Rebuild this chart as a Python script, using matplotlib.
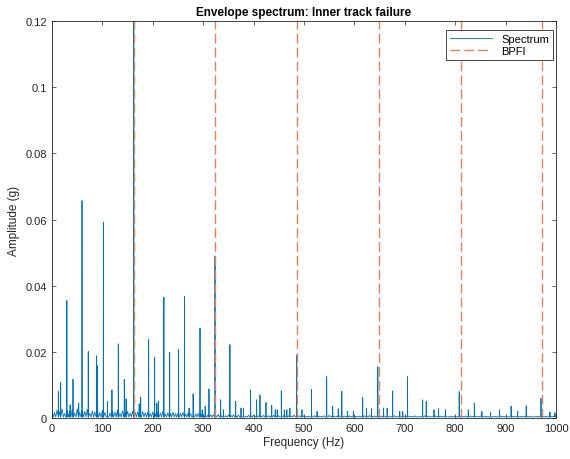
import numpy as np
import matplotlib
matplotlib.use("Agg")
import matplotlib.pyplot as plt
from matplotlib.ticker import FuncFormatter

plt.rcParams["font.family"] = ["Liberation Sans", "DejaVu Sans"]

# BPFI harmonics (Hz)
bpfi_freqs = [162.2, 324.4, 486.6, 648.8, 811.0, 973.2]

# tips of the noise floor, one every 5 Hz from 0 to 1000 Hz
floor_vals = [
    0.0026, 0.0016, 0.0024, 0.0019, 0.0027, 0.0014, 0.0022, 0.0020, 0.0025, 0.0015,
    0.0028, 0.0017, 0.0023, 0.0020, 0.0026, 0.0014, 0.0021, 0.0018, 0.0024, 0.0016,
    0.0023, 0.0017, 0.0026, 0.0015, 0.0020, 0.0018, 0.0024, 0.0014, 0.0022, 0.0016,
    0.0020, 0.0015, 0.0021, 0.0017, 0.0019, 0.0013, 0.0020, 0.0016, 0.0018, 0.0014,
    0.0019, 0.0013, 0.0017, 0.0015, 0.0020, 0.0012, 0.0016, 0.0014, 0.0018, 0.0013,
    0.0015, 0.0014, 0.0017, 0.0011, 0.0015, 0.0013, 0.0016, 0.0012, 0.0014, 0.0013,
    0.0012, 0.0008, 0.0011, 0.0009, 0.0010, 0.0007, 0.0011, 0.0008, 0.0010, 0.0007,
    0.0009, 0.0008, 0.0010, 0.0006, 0.0009, 0.0007, 0.0010, 0.0006, 0.0008, 0.0007,
    0.0008, 0.0005, 0.0007, 0.0006, 0.0008, 0.0005, 0.0007, 0.0006, 0.0008, 0.0005,
    0.0007, 0.0006, 0.0008, 0.0005, 0.0007, 0.0006, 0.0009, 0.0005, 0.0007, 0.0006,
    0.0007, 0.0005, 0.0006, 0.0005, 0.0007, 0.0006, 0.0006, 0.0005, 0.0007, 0.0005,
    0.0008, 0.0005, 0.0006, 0.0005, 0.0007, 0.0006, 0.0006, 0.0005, 0.0007, 0.0005,
    0.0007, 0.0005, 0.0006, 0.0006, 0.0007, 0.0005, 0.0008, 0.0005, 0.0006, 0.0005,
    0.0007, 0.0006, 0.0006, 0.0005, 0.0006, 0.0005, 0.0007, 0.0005, 0.0007, 0.0005,
    0.0006, 0.0005, 0.0006, 0.0005, 0.0007, 0.0004, 0.0006, 0.0005, 0.0007, 0.0005,
    0.0006, 0.0004, 0.0007, 0.0005, 0.0006, 0.0005, 0.0007, 0.0004, 0.0006, 0.0005,
    0.0007, 0.0004, 0.0006, 0.0005, 0.0006, 0.0004, 0.0006, 0.0005, 0.0005, 0.0005,
    0.0006, 0.0004, 0.0005, 0.0005, 0.0006, 0.0005, 0.0005, 0.0004, 0.0006, 0.0005,
    0.0006, 0.0004, 0.0005, 0.0005, 0.0006, 0.0004, 0.0005, 0.0005, 0.0006, 0.0005,
    0.0005, 0.0004, 0.0006, 0.0005, 0.0005, 0.0005, 0.0006, 0.0004, 0.0005, 0.0005,
    0.0006,
]
floor_trough = 0.0003
floor_freqs = np.linspace(0, 1000, len(floor_vals))

# spectral lines (Hz, g)
peak_freqs = [
    12.6, 17.2, 29.5, 36.0, 41.7, 53.0, 59.6, 72.0, 88.6, 89.6,
    102.0, 110.0, 119.0, 131.6, 143.5, 147.0, 162.2, 173.0, 176.0, 191.8,
    203.7, 208.0, 211.0, 222.0, 233.5, 251.3, 263.0, 272.0, 280.0, 293.7,
    298.0, 304.0, 311.5, 323.5, 334.7, 340.0, 353.0, 364.5, 375.0, 380.0,
    394.0, 406.0, 412.7, 424.6, 436.0, 443.0, 447.0, 455.0, 461.0, 466.0,
    472.0, 485.5, 496.0, 515.0, 526.0, 545.0, 557.0, 568.0, 575.0, 586.0,
    598.0, 616.5, 624.0, 634.0, 646.5, 658.0, 665.0, 676.0, 690.0, 696.0,
    705.5, 735.5, 742.5, 758.0, 767.0, 781.0, 808.0, 826.0, 838.0, 853.0,
    870.0, 888.0, 911.0, 924.0, 941.0, 970.3, 988.0, 998.0,
]
peak_amps = [
    0.0080, 0.0107, 0.0355, 0.0040, 0.0117, 0.0045, 0.0657, 0.0201, 0.0188, 0.0158,
    0.0592, 0.0050, 0.0085, 0.0224, 0.0117, 0.0058, 0.1400, 0.0043, 0.0063, 0.0237,
    0.0184, 0.0045, 0.0050, 0.0365, 0.0199, 0.0208, 0.0367, 0.0030, 0.0073, 0.0272,
    0.0025, 0.0035, 0.0088, 0.0490, 0.0055, 0.0025, 0.0222, 0.0050, 0.0030, 0.0030,
    0.0085, 0.0055, 0.0070, 0.0047, 0.0038, 0.0025, 0.0025, 0.0082, 0.0025, 0.0025,
    0.0030, 0.0190, 0.0025, 0.0087, 0.0020, 0.0125, 0.0035, 0.0028, 0.0081, 0.0020,
    0.0020, 0.0062, 0.0030, 0.0028, 0.0155, 0.0030, 0.0030, 0.0082, 0.0020, 0.0020,
    0.0125, 0.0055, 0.0050, 0.0025, 0.0028, 0.0025, 0.0080, 0.0025, 0.0045, 0.0020,
    0.0018, 0.0025, 0.0036, 0.0020, 0.0037, 0.0060, 0.0018, 0.0016,
]

# merge floor tips, troughs and spectral lines into one trace
step = floor_freqs[1] - floor_freqs[0]
xs = list(floor_freqs) + list(floor_freqs[:-1] + step / 2)
ys = list(floor_vals) + [floor_trough] * (len(floor_vals) - 1)
half_w = 0.25
for f, a in zip(peak_freqs, peak_amps):
    xs += [f - half_w, f, f + half_w]
    ys += [floor_trough, a, floor_trough]
order = np.argsort(xs, kind="stable")
freq = np.array(xs)[order]
amp = np.array(ys)[order]

fig = plt.figure(figsize=(5.7, 4.6), dpi=100)
ax = fig.add_axes([0.0912, 0.0891, 0.8842, 0.8631])

ax.plot(freq, amp, color="#0072BD", linewidth=0.6, label="Spectrum")
for i, fb in enumerate(bpfi_freqs):
    ax.axvline(fb, color="#E2825A", linewidth=1.0, dashes=(7, 3),
               label="BPFI" if i == 0 else None)

ax.set_xlim(0, 1000)
ax.set_ylim(0, 0.12)
ax.set_xticks(np.arange(0, 1001, 100))
ax.set_yticks(np.arange(0, 0.121, 0.02))
ax.yaxis.set_major_formatter(FuncFormatter(lambda v, p: "%g" % round(v, 4)))
ax.tick_params(direction="in", top=True, right=True, length=3, width=0.5,
               labelsize=8, colors="#262626")
for s in ax.spines.values():
    s.set_linewidth(0.6)
    s.set_color("#262626")

ax.set_xlabel("Frequency (Hz)", fontsize=8.5, color="#262626", labelpad=2)
ax.set_ylabel("Amplitude (g)", fontsize=8.5, color="#262626", labelpad=4)
ax.set_title("Envelope spectrum: Inner track failure", fontsize=8.5,
             fontweight="bold", pad=4)

leg = ax.legend(loc="upper right", bbox_to_anchor=(0.994, 0.977),
                borderaxespad=0, fontsize=8, fancybox=False, framealpha=1,
                edgecolor="#262626", handlelength=3.8, borderpad=0.35,
                labelspacing=0.2)
leg.get_frame().set_linewidth(0.6)

fig.savefig("out.png", dpi=100)
